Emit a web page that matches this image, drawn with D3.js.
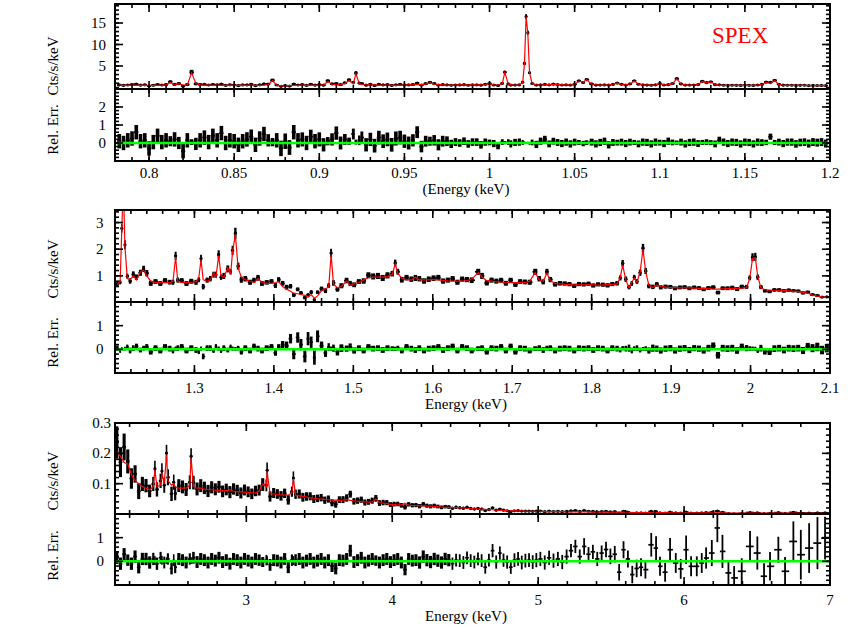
<!DOCTYPE html>
<html lang="en">
<head>
<meta charset="utf-8">
<script src="https://d3js.org/d3.v7.min.js"></script>
<title>SPEX fit residuals</title>
<style>
  body { margin: 0; background: #fff; }
  svg text { font-family: "Liberation Serif", "Times New Roman", serif; fill: #000; }
</style>
</head>
<body>
<div id="chart"></div>
<script>
// ---------------- data ----------------
// energy (keV), model (cts/s/keV), relative residual (data-model)/model, 1-sigma relative error

// panel 1 : 0.78 - 1.2 keV
const p1Energy = [
  .7825,.785,.7875,.79,.7925,.795,.7975,.80,.8025,.805,
  .8075,.81,.8125,.815,.8175,.82,.8225,.825,.8275,.83,
  .8325,.835,.8375,.84,.8425,.845,.8475,.85,.8525,.855,
  .8575,.86,.8625,.865,.8675,.87,.8725,.875,.8775,.88,
  .8825,.885,.8875,.89,.8925,.895,.8975,.90,.9025,.905,
  .9075,.91,.9125,.915,.9175,.92,.9215,.9235,.925,.9275,
  .93,.9325,.935,.9375,.94,.9425,.945,.9475,.95,.9525,
  .955,.9575,.96,.9625,.965,.9675,.97,.9725,.975,.9775,
  .98,.9825,.985,.9875,.99,.9925,.995,.9975,1.0,1.0025,
  1.005,1.0075,1.009,1.011,1.0125,1.015,1.0175,1.0195,1.0205,1.0215,
  1.0225,1.0235,1.025,1.0275,1.03,1.0325,1.035,1.0375,1.04,1.0425,
  1.045,1.0475,1.05,1.0525,1.055,1.057,1.06,1.0625,1.065,1.0675,
  1.07,1.0725,1.075,1.0775,1.08,1.0825,1.085,1.0875,1.09,1.0925,
  1.095,1.0975,1.10,1.1025,1.105,1.1075,1.11,1.1125,1.115,1.1175,
  1.12,1.1225,1.125,1.1275,1.13,1.1325,1.135,1.1375,1.14,1.1425,
  1.145,1.1475,1.15,1.1525,1.155,1.1575,1.16,1.1625,1.165,1.1675,
  1.17,1.1725,1.175,1.1775,1.18,1.1825,1.185,1.1875,1.19,1.1925,
  1.195,1.1975];
const p1Model = [
  .55,.5,.5,.55,.5,.5,.55,.5,.5,.5,
  .55,.6,1.2,.6,.9,.55,.6,3.4,.9,.6,
  .55,.55,.5,.55,.5,.5,.55,.5,.5,.55,
  .5,.55,.5,.5,.55,.7,1.6,.5,.4,.4,
  .45,.5,.5,.55,.5,.55,.5,.55,.6,1.4,
  .7,.6,.65,.9,1.6,.8,3.2,.9,.7,.6,
  .6,.55,.55,.55,.55,.55,.5,.55,.55,.6,
  .6,.65,.7,.8,1.1,.8,.65,.6,.55,.55,
  .55,.6,.6,.55,.6,.6,.6,.7,.9,.6,
  .55,.9,3.5,.8,.6,.55,.6,1.2,5.5,16.5,
  12.5,3.5,.9,.6,.55,.6,.65,.7,.65,.6,
  .6,.6,.7,1.5,1.2,1.8,.8,.6,.55,.55,
  .6,.7,1.0,.7,.6,.8,1.5,.8,.6,.55,
  .55,.6,.9,.6,.6,.9,2.0,.8,.6,.55,
  .55,.7,1.4,1.1,1.3,.7,.55,.5,.5,.5,
  .5,.5,.5,.5,.5,.55,.7,1.2,.9,1.6,
  .7,.55,.5,.5,.5,.5,.5,.45,.45,.45,
  .45,.45];
const p1Rel = [
  .1,0,.15,.25,.6,.1,.15,-.3,.05,.4,
  .05,.15,.1,.2,0,-.45,.15,.05,-.05,.15,
  .3,.05,.4,.15,.55,0,.15,.1,-.1,.1,
  .2,.35,-.1,.25,.5,.15,.05,.15,-.3,.1,
  -.25,.6,.15,.2,0,.35,.1,.2,-.1,.1,
  .2,.55,0,.2,.1,.5,.05,.15,.3,-.1,
  .2,-.15,.3,.1,.2,-.1,.25,.3,.1,0,
  .15,.6,-.2,.1,.1,.15,-.1,.1,.1,-.05,
  .05,0,.1,-.05,.05,.05,-.1,.05,.03,-.03,
  -.15,.05,.02,.05,-.05,.03,.05,.03,.02,0,
  .02,-.02,.03,-.08,.1,.2,-.05,.1,.03,-.03,
  .05,-.05,.05,.03,-.03,.02,.05,-.05,.03,.1,
  -.1,.03,.02,.05,-.03,.05,.03,-.05,.05,.03,
  -.05,.05,.02,-.03,.1,.03,.02,.05,-.05,.03,
  .05,-.03,.03,.05,.02,-.05,.15,.05,-.03,.05,
  .03,-.05,.05,.03,-.05,.05,.02,.03,.35,.03,
  .05,-.03,.05,.05,-.05,.03,.05,-.03,.05,.02,
  .05,-.03];
const p1Err = [
  .4,.4,.4,.4,.4,.4,.4,.4,.4,.4,
  .4,.4,.28,.4,.34,.4,.4,.16,.34,.4,
  .4,.4,.4,.4,.4,.4,.4,.4,.4,.4,
  .4,.4,.4,.4,.4,.34,.23,.4,.43,.43,
  .41,.4,.4,.39,.4,.39,.4,.39,.37,.23,
  .34,.37,.36,.3,.2,.3,.14,.27,.34,.37,
  .37,.38,.38,.38,.38,.38,.39,.38,.37,.36,
  .34,.33,.32,.3,.25,.29,.31,.3,.27,.23,
  .22,.21,.21,.21,.21,.21,.21,.2,.16,.2,
  .2,.16,.09,.16,.2,.2,.2,.14,.07,.035,
  .04,.08,.16,.2,.2,.2,.19,.19,.19,.2,
  .2,.2,.19,.14,.15,.13,.19,.2,.2,.2,
  .2,.19,.16,.19,.2,.19,.14,.19,.2,.2,
  .2,.2,.16,.2,.2,.16,.12,.19,.2,.2,
  .2,.19,.14,.16,.14,.19,.2,.2,.2,.2,
  .2,.2,.2,.2,.2,.2,.19,.15,.17,.14,
  .19,.2,.2,.2,.21,.21,.21,.22,.22,.22,
  .22,.22];

// panel 2 : 1.2 - 2.1 keV
const p2Energy = [
  1.203,1.2065,1.2085,1.2105,1.2125,1.2155,1.219,1.223,1.227,1.232,
  1.236,1.240,1.245,1.251,1.257,1.263,1.269,1.273,1.2763,1.279,
  1.284,1.290,1.296,1.302,1.3055,1.3083,1.311,1.316,1.320,1.324,
  1.327,1.3305,1.3335,1.337,1.342,1.3455,1.348,1.3515,1.355,1.359,
  1.364,1.370,1.375,1.380,1.385,1.391,1.397,1.402,1.406,1.411,
  1.416,1.421,1.425,1.430,1.434,1.439,1.443,1.447,1.451,1.455,
  1.460,1.465,1.469,1.472,1.475,1.480,1.485,1.4915,1.496,1.501,
  1.507,1.513,1.519,1.525,1.531,1.537,1.543,1.549,1.5527,1.556,
  1.561,1.567,1.573,1.578,1.583,1.589,1.595,1.601,1.607,1.613,
  1.619,1.625,1.631,1.637,1.643,1.649,1.6572,1.662,1.668,1.674,
  1.680,1.686,1.692,1.698,1.704,1.710,1.716,1.722,1.729,1.734,
  1.739,1.7437,1.748,1.754,1.760,1.766,1.772,1.778,1.784,1.790,
  1.796,1.802,1.808,1.814,1.820,1.826,1.832,1.836,1.839,1.843,
  1.847,1.8505,1.8536,1.857,1.861,1.8646,1.868,1.872,1.877,1.882,
  1.887,1.893,1.899,1.905,1.911,1.917,1.923,1.929,1.935,1.941,
  1.947,1.953,1.959,1.965,1.971,1.977,1.983,1.989,1.995,1.999,
  2.0025,2.006,2.009,2.013,2.018,2.024,2.030,2.036,2.042,2.048,
  2.054,2.060,2.066,2.072,2.078,2.084,2.090,2.096];
const p2Model = [
  .66,.8,2.7,4.5,2.1,.9,.85,1.0,.85,1.15,
  1.2,1.0,.8,.75,.75,.75,.74,.8,1.7,.8,
  .75,.75,.76,.78,.95,1.6,.85,.8,.85,1.1,
  .95,1.75,1.0,.95,1.3,1.05,1.9,2.55,1.3,.95,
  .85,.8,.75,.9,.75,.72,.72,.75,.78,.6,
  .5,.42,.35,.33,.3,.27,.2,.3,.16,.25,
  .45,.52,.58,1.8,.7,.55,.6,.8,.65,.7,
  .75,.85,.93,.95,.95,.95,.97,1.05,1.45,1.1,
  .9,.85,.85,.95,.85,.85,.85,.87,.85,.83,
  .8,.8,.8,.8,.82,.88,1.12,.95,.82,.8,
  .78,.76,.76,.75,.75,.75,.75,.8,1.12,.85,
  .8,1.1,.82,.72,.7,.68,.67,.66,.66,.66,
  .67,.66,.65,.65,.68,.66,.7,.95,1.4,.85,
  .55,.75,.92,.75,1.15,2.0,1.15,.65,.56,.66,
  .6,.58,.56,.56,.55,.55,.55,.54,.53,.52,
  .52,.5,.5,.51,.52,.53,.53,.54,.56,.9,
  1.65,1.68,1.0,.55,.48,.46,.46,.45,.45,.44,
  .43,.41,.38,.35,.28,.24,.21,.2];
const p2Rel = [
  .05,-.05,.03,0,.03,.1,-.05,.05,.12,-.03,
  .05,.1,-.1,.05,-.05,.1,.03,-.05,.03,.05,
  .1,-.05,.05,-.03,-.1,.03,-.3,.05,.05,-.05,
  .1,.03,-.05,.05,-.03,.1,.03,.02,.05,-.1,
  .05,-.05,.12,.03,-.05,.05,.1,-.15,.1,.2,
  .15,.45,-.2,.5,.2,-.3,.45,.3,-.35,.55,
  .15,-.15,.1,.03,.05,-.1,.05,.03,.1,-.05,
  .05,-.05,.1,.03,.05,-.03,.05,.03,.02,.05,
  -.05,.1,.03,-.03,.05,-.05,.03,.05,.1,-.03,
  .05,.12,-.05,.1,.05,-.05,.03,.05,-.1,.05,
  .03,.1,-.05,.12,-.1,.05,.03,-.05,.03,.05,
  -.03,.05,.05,-.05,.03,.05,.03,-.05,.05,.03,
  .05,-.03,.05,.03,-.05,.05,.03,-.03,.05,.03,
  .05,-.05,.03,.05,-.03,.02,.03,-.05,.05,.03,
  -.05,.03,.05,-.05,.03,.05,-.03,.05,.03,-.05,
  .05,.15,-.25,.05,.03,.05,-.05,.1,.05,.03,
  .03,.02,-.05,.05,-.08,-.1,.03,.05,-.03,.05,
  .03,.05,-.05,.12,.05,.1,-.03,.05];
const p2Err = [
  .12,.1,.06,.05,.08,.1,.12,.12,.12,.1,
  .1,.12,.12,.12,.12,.12,.12,.12,.09,.12,
  .12,.12,.12,.12,.1,.09,.12,.12,.12,.1,
  .12,.09,.1,.12,.1,.1,.09,.08,.1,.12,
  .12,.12,.12,.12,.12,.12,.12,.12,.12,.15,
  .18,.2,.22,.22,.24,.25,.28,.24,.3,.25,
  .18,.17,.16,.09,.15,.16,.16,.13,.15,.13,
  .12,.12,.12,.12,.12,.12,.12,.1,.09,.1,
  .12,.12,.12,.12,.12,.12,.12,.12,.12,.12,
  .12,.12,.12,.12,.12,.12,.1,.12,.12,.12,
  .12,.12,.12,.12,.12,.12,.12,.12,.1,.12,
  .12,.1,.12,.12,.12,.12,.12,.12,.12,.12,
  .12,.12,.12,.12,.12,.12,.12,.1,.09,.12,
  .15,.12,.1,.12,.1,.08,.1,.13,.15,.13,
  .13,.13,.13,.13,.13,.13,.13,.13,.13,.13,
  .14,.14,.14,.14,.14,.14,.14,.14,.13,.1,
  .09,.09,.1,.14,.14,.14,.14,.14,.14,.14,
  .14,.14,.15,.15,.17,.18,.18,.18];

// panel 3 : 2.1 - 7 keV
const p3Energy = [
  2.1125,2.1375,2.1625,2.1875,2.2125,2.2375,2.2625,2.2875,2.3125,2.3375,
  2.3625,2.3735,2.3875,2.4125,2.4215,2.4375,2.453,2.4625,2.4875,2.5025,
  2.5125,2.5375,2.5625,2.5875,2.6125,2.6215,2.6375,2.6625,2.6875,2.7125,
  2.7375,2.7625,2.7875,2.8125,2.8375,2.8625,2.8875,2.9125,2.9375,2.9625,
  2.9875,3.0125,3.0375,3.0625,3.0875,3.1125,3.1375,3.1425,3.1625,3.1875,
  3.2125,3.2375,3.2625,3.2875,3.3125,3.3225,3.3375,3.3625,3.3875,3.4125,
  3.4375,3.4625,3.4875,3.5125,3.5375,3.5625,3.5875,3.6125,3.6375,3.6625,
  3.6875,3.7125,3.7375,3.7625,3.7875,3.8125,3.8375,3.8625,3.8875,3.9125,
  3.9375,3.9625,3.9875,4.0125,4.0375,4.0625,4.0875,4.1125,4.1375,4.1625,
  4.1875,4.2125,4.2375,4.2625,4.2875,4.3125,4.3375,4.3625,4.3875,4.4125,
  4.4375,4.4625,4.4875,4.5125,4.5375,4.5625,4.5875,4.6125,4.6375,4.6625,
  4.6875,4.7125,4.7375,4.7625,4.7875,4.8125,4.8375,4.8625,4.8875,4.9125,
  4.9375,4.9625,4.9875,5.015,5.045,5.075,5.105,5.135,5.165,5.195,
  5.225,5.255,5.285,5.315,5.345,5.375,5.405,5.435,5.465,5.495,
  5.525,5.555,5.585,5.615,5.645,5.675,5.705,5.735,5.775,5.808,
  5.835,5.87,5.904,5.943,5.977,6.014,6.048,6.087,6.121,6.151,
  6.19,6.228,6.263,6.304,6.343,6.395,6.452,6.502,6.548,6.589,
  6.646,6.692,6.749,6.80,6.857,6.914,6.966];
const p3Model = [
  .205,.19,.17,.165,.13,.11,.1,.09,.085,.08,
  .09,.145,.09,.095,.135,.1,.195,.11,.095,.1,
  .09,.085,.085,.085,.095,.185,.09,.085,.085,.082,
  .08,.08,.079,.078,.077,.077,.08,.075,.074,.073,
  .072,.071,.07,.069,.075,.1,.09,.14,.068,.066,
  .064,.063,.062,.062,.07,.115,.062,.06,.058,.056,
  .053,.052,.05,.049,.048,.047,.046,.046,.045,.046,
  .048,.045,.043,.042,.041,.04,.039,.04,.05,.038,
  .036,.034,.032,.031,.03,.03,.036,.029,.028,.028,
  .027,.027,.026,.026,.025,.024,.023,.022,.022,.021,
  .021,.02,.02,.019,.018,.017,.017,.016,.015,.014,
  .014,.013,.012,.012,.011,.011,.01,.01,.01,.009,
  .009,.009,.009,.009,.008,.008,.008,.008,.008,.007,
  .007,.007,.007,.007,.007,.006,.006,.006,.006,.006,
  .006,.006,.006,.006,.005,.005,.005,.005,.005,.005,
  .005,.005,.004,.004,.004,.004,.004,.004,.004,.004,
  .004,.004,.004,.003,.003,.003,.003,.003,.003,.003,
  .003,.003,.003,.003,.002,.002,.002];
const p3Rel = [
  .15,-.1,.3,.05,-.1,.2,-.25,.1,.1,-.05,
  .1,.03,-.1,.15,.05,-.05,.03,.1,-.3,.05,
  -.25,.1,.05,-.05,.1,.03,.15,-.03,.1,.05,
  -.05,.1,.03,.15,-.03,.05,-.1,.1,.05,-.05,
  .1,.03,-.05,.1,.05,-.03,.05,.03,-.15,.05,
  .03,-.05,.1,-.25,.05,.03,.05,.1,-.05,.03,
  .1,-.05,.03,.1,-.05,.05,-.2,-.3,.05,.03,
  .1,.45,-.03,.05,.15,-.05,.03,.1,.03,-.05,
  .05,.1,-.03,.05,.1,-.05,-.35,.1,.03,.05,
  -.05,.2,.05,-.03,.1,.03,-.05,.1,.05,-.1,
  .05,.03,-.05,.15,.03,-.03,.1,.03,-.25,.05,
  .45,-.03,.35,.05,-.03,-.25,.05,.1,-.05,.03,
  .05,-.03,.05,.1,-.05,.15,.03,.1,-.03,.2,
  .45,.63,.2,.63,.3,.4,.1,.35,.5,.21,
  .3,-.46,.49,.1,-.56,-.3,-.25,-.35,.7,.56,
  -.21,-.46,.49,-.07,-.32,.49,-.21,-.21,-.07,.14,
  .35,1.41,.42,-.49,-.7,-.42,.63,.35,-.63,-.21,
  .49,-.42,.84,.28,.56,.77,.98];
const p3Err = [
  .26,.26,.26,.24,.26,.26,.26,.26,.26,.26,
  .26,.18,.26,.25,.19,.25,.14,.24,.25,.25,
  .25,.25,.25,.25,.24,.14,.25,.25,.25,.25,
  .25,.25,.25,.25,.25,.25,.25,.25,.25,.25,
  .25,.25,.25,.25,.24,.21,.22,.18,.25,.25,
  .25,.25,.25,.25,.24,.19,.25,.25,.25,.25,
  .25,.25,.25,.25,.25,.25,.25,.25,.25,.25,
  .25,.25,.25,.25,.25,.25,.25,.25,.22,.25,
  .25,.25,.25,.25,.25,.25,.24,.25,.25,.25,
  .26,.26,.26,.26,.26,.26,.26,.26,.26,.26,
  .27,.27,.27,.27,.27,.27,.27,.27,.27,.27,
  .28,.28,.28,.28,.28,.28,.29,.29,.29,.29,
  .29,.29,.3,.3,.3,.3,.3,.3,.3,.3,
  .28,.28,.3,.35,.3,.3,.3,.32,.33,.33,
  .35,.35,.36,.36,.37,.37,.38,.38,.5,.5,
  .4,.4,.5,.42,.42,.6,.42,.42,.42,.45,
  .55,.6,.7,.5,.5,.55,.65,.7,.55,.6,
  .55,.6,.85,1.05,1.05,1.1,.9];

// axis ticks / labels
const p1XTicks = [0.8, 0.85, 0.9, 0.95, 1, 1.05, 1.1, 1.15, 1.2];
const p2XTicks = [1.3, 1.4, 1.5, 1.6, 1.7, 1.8, 1.9, 2, 2.1];
const p3XTicks = [3, 4, 5, 6, 7];
const p1TopTicks = [5, 10, 15];
const p2TopTicks = [1, 2, 3];
const p3TopTicks = [0.1, 0.2, 0.3];
const p1ResTicks = [0, 1, 2];
const p2ResTicks = [0, 1];
const p3ResTicks = [0, 1];

// ---------------- layout ----------------
const W = 857, H = 627;
const left = 115, right = 830;
const font = 15;

const panels = [
  { energy: p1Energy, model: p1Model, rel: p1Rel, err: p1Err,
    xDomain: [0.78, 1.2], xMinor: 42, xTicks: p1XTicks, thinFrom: 99,
    topBox: [4, 89], topDomain: [-0.35, 19.42], topTicks: p1TopTicks, topMinor: 20, topLabelX: 106,
    botBox: [89, 161], botDomain: [-1, 3], botTicks: p1ResTicks, botMinor: 20, botLabelX: 106,
    tickLabelY: 178, xTitle: "(Energy (keV)", xTitleY: 194, ctsY: 66, relY: 129.5 },
  { energy: p2Energy, model: p2Model, rel: p2Rel, err: p2Err,
    xDomain: [1.2, 2.1], xMinor: 45, xTicks: p2XTicks, thinFrom: 99,
    topBox: [210, 302], topDomain: [0.02, 3.47], topTicks: p2TopTicks, topMinor: 17, topLabelX: 103.5,
    botBox: [302, 373], botDomain: [-1, 2], botTicks: p2ResTicks, botMinor: 15, botLabelX: 103.5,
    tickLabelY: 393, xTitle: "Energy (keV)", xTitleY: 409, ctsY: 269, relY: 342.5 },
  { energy: p3Energy, model: p3Model, rel: p3Rel, err: p3Err,
    xDomain: [2.1, 7], xMinor: 25, xTicks: p3XTicks, thinFrom: 4.4,
    topBox: [423, 514], topDomain: [0, 0.3], topTicks: p3TopTicks, topMinor: 15, topLabelX: 111,
    botBox: [514, 585], botDomain: [-1, 2], botTicks: p3ResTicks, botMinor: 15, botLabelX: 104,
    tickLabelY: 605, xTitle: "Energy (keV)", xTitleY: 621, ctsY: 481, relY: 555.5 }
];

const svg = d3.select("#chart").append("svg")
  .attr("width", W).attr("height", H);
const defs = svg.append("defs");

function ticksH(g, scale, y, dir, values, len) {
  g.selectAll(null).data(values).join("line")
    .attr("x1", d => scale(d)).attr("x2", d => scale(d))
    .attr("y1", y).attr("y2", y + dir * len)
    .attr("stroke", "#000").attr("stroke-width", 1.6);
}
function ticksV(g, scale, x, dir, values, len) {
  g.selectAll(null).data(values).join("line")
    .attr("y1", d => scale(d)).attr("y2", d => scale(d))
    .attr("x1", x).attr("x2", x + dir * len)
    .attr("stroke", "#000").attr("stroke-width", 1.6);
}

// error bars; where channels are packed tight the vertical bar almost fills
// the channel so the band reads dense, like the original
function errorBars(g, bins, x, y, val, sig, thinFrom) {
  const barW = d => d.e < thinFrom
    ? Math.max(1.6, Math.min(4, 0.85 * (x(d.hi) - x(d.lo))))
    : 1.8;
  g.selectAll(null).data(bins).join("line")
    .attr("x1", d => x(d.e)).attr("x2", d => x(d.e))
    .attr("y1", d => y(val(d) - sig(d))).attr("y2", d => y(val(d) + sig(d)))
    .attr("stroke", "#000").attr("stroke-width", barW);
  g.selectAll(null).data(bins).join("line")
    .attr("x1", d => x(d.lo)).attr("x2", d => x(d.hi))
    .attr("y1", d => y(val(d))).attr("y2", d => y(val(d)))
    .attr("stroke", "#000").attr("stroke-width", 1.7);
}

function drawPanel(p, id) {
  const x = d3.scaleLinear().domain(p.xDomain).range([left, right]);
  const yT = d3.scaleLinear().domain(p.topDomain).range([p.topBox[1], p.topBox[0]]);
  const yB = d3.scaleLinear().domain(p.botDomain).range([p.botBox[1], p.botBox[0]]);

  // bins: edges half way between neighbouring channels
  const E = p.energy;
  const n = Math.min(E.length, p.model.length, p.rel.length, p.err.length);
  const bins = [];
  for (let i = 0; i < n; i++) {
    const e = E[i];
    const lo = i > 0 ? (E[i - 1] + e) / 2 : e - (E[1] - e) / 2;
    const hi = i < n - 1 ? (e + E[i + 1]) / 2 : Math.min(e + (e - E[i - 1]) / 2, p.xDomain[1]);
    const m = p.model[i];
    // counts follow from the plotted relative error: (data - model) / model
    bins.push({ e, lo, hi, m, r: p.rel[i], s: p.err[i],
                c: m * (1 + p.rel[i]), cs: m * p.err[i] });
  }

  ["T", "B"].forEach(k => {
    const box = k === "T" ? p.topBox : p.botBox;
    defs.append("clipPath").attr("id", `clip${k}${id}`)
      .append("rect").attr("x", left).attr("y", box[0])
      .attr("width", right - left).attr("height", box[1] - box[0]);
  });

  // ---- spectrum ----
  const gT = svg.append("g").attr("clip-path", `url(#clipT${id})`);
  errorBars(gT, bins, x, yT, d => d.c, d => d.cs, p.thinFrom);
  gT.selectAll("circle").data(bins).join("circle")
    .attr("cx", d => x(d.e)).attr("cy", d => yT(d.c)).attr("r", 1.6)
    .attr("fill", "#000");
  gT.append("path").datum(bins)
    .attr("d", d3.line().x(d => x(d.e)).y(d => yT(d.m)))
    .attr("fill", "none").attr("stroke", "#ff0000").attr("stroke-width", 1.2);

  // ---- residuals ----
  const gB = svg.append("g").attr("clip-path", `url(#clipB${id})`);
  errorBars(gB, bins, x, yB, d => d.r, d => d.s, p.thinFrom);
  gB.append("line")
    .attr("x1", left).attr("x2", right).attr("y1", yB(0)).attr("y2", yB(0))
    .attr("stroke", "#00ff00").attr("stroke-width", 2.5);

  // ---- frames and ticks ----
  const gA = svg.append("g");
  const xMin = x.ticks(p.xMinor);
  [p.topBox, p.botBox].forEach(box => {
    gA.append("rect").attr("x", left).attr("y", box[0])
      .attr("width", right - left).attr("height", box[1] - box[0])
      .attr("fill", "none").attr("stroke", "#000").attr("stroke-width", 2);
    ticksH(gA, x, box[0], 1, xMin, 4);
    ticksH(gA, x, box[1], -1, xMin, 4);
    ticksH(gA, x, box[0], 1, p.xTicks, 8);
    ticksH(gA, x, box[1], -1, p.xTicks, 8);
  });
  [[yT, p.topTicks, p.topMinor], [yB, p.botTicks, p.botMinor]].forEach(([y, maj, mn]) => {
    const minor = y.ticks(mn);
    ticksV(gA, y, left, 1, minor, 4);
    ticksV(gA, y, right, -1, minor, 4);
    ticksV(gA, y, left, 1, maj, 8);
    ticksV(gA, y, right, -1, maj, 8);
  });

  // ---- labels ----
  gA.selectAll(null).data(p.xTicks).join("text")
    .attr("x", d => x(d)).attr("y", p.tickLabelY)
    .attr("text-anchor", "middle").attr("font-size", font)
    .text(d => String(d));
  gA.selectAll(null).data(p.topTicks).join("text")
    .attr("x", p.topLabelX).attr("y", d => yT(d)).attr("dy", "0.34em")
    .attr("text-anchor", "end").attr("font-size", font)
    .text(d => String(d));
  gA.selectAll(null).data(p.botTicks).join("text")
    .attr("x", p.botLabelX).attr("y", d => yB(d)).attr("dy", "0.34em")
    .attr("text-anchor", "end").attr("font-size", font)
    .text(d => String(d));
  gA.append("text").attr("x", 466).attr("y", p.xTitleY)
    .attr("text-anchor", "middle").attr("font-size", font).text(p.xTitle);
  gA.append("text").attr("transform", `translate(58,${p.ctsY}) rotate(-90)`)
    .attr("text-anchor", "middle").attr("font-size", font).text("Cts/s/keV");
  gA.append("text").attr("transform", `translate(58,${p.relY}) rotate(-90)`)
    .attr("text-anchor", "middle").attr("font-size", font).text("Rel. Err.");
}

panels.forEach((p, i) => drawPanel(p, i));

svg.append("text").attr("x", 712).attr("y", 43)
  .attr("font-size", 23).style("fill", "#ff0000").text("SPEX");
</script>
</body>
</html>
